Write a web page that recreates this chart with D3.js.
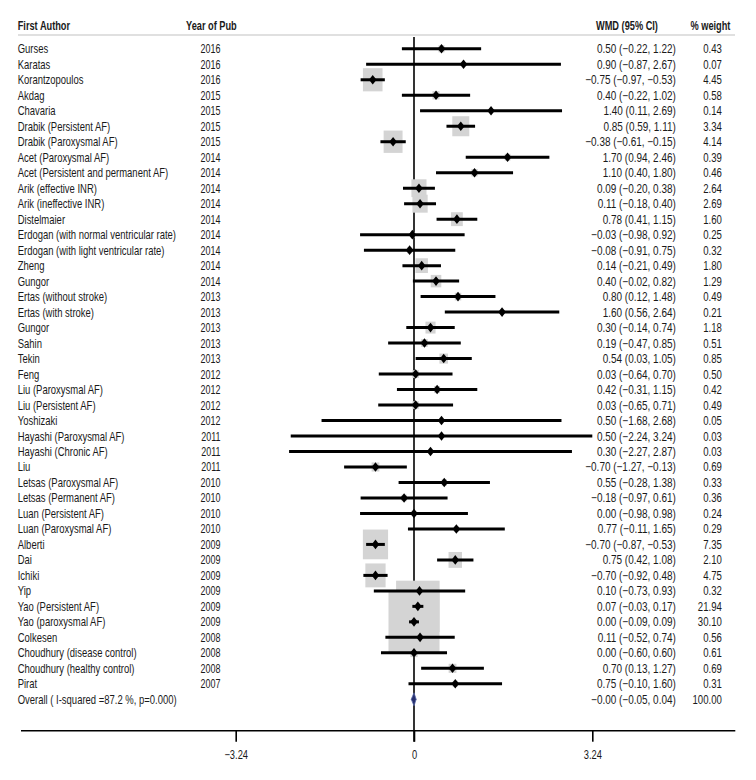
<!DOCTYPE html>
<html>
<head>
<meta charset="utf-8">
<script src="https://cdn.jsdelivr.net/npm/d3@7"></script>
<style>
  body { margin: 0; background: #fff; }
  svg text { font-family: "Liberation Sans", Arial, sans-serif; fill: #1a1a1a; }
</style>
</head>
<body>
<svg id="chart" width="756" height="780"></svg>
<script>
const authors = [
  "Gurses","Karatas","Korantzopoulos","Akdag","Chavaria","Drabik (Persistent AF)","Drabik (Paroxysmal AF)",
  "Acet (Paroxysmal AF)","Acet (Persistent and permanent AF)","Arik (effective INR)","Arik (ineffective INR)",
  "Distelmaier","Erdogan (with normal ventricular rate)","Erdogan (with light ventricular rate)","Zheng","Gungor",
  "Ertas (without stroke)","Ertas (with stroke)","Gungor","Sahin","Tekin","Feng","Liu (Paroxysmal AF)",
  "Liu (Persistent AF)","Yoshizaki","Hayashi (Paroxysmal AF)","Hayashi (Chronic AF)","Liu","Letsas (Paroxysmal AF)",
  "Letsas (Permanent AF)","Luan (Persistent AF)","Luan (Paroxysmal AF)","Alberti","Dai","Ichiki","Yip",
  "Yao (Persistent AF)","Yao (paroxysmal AF)","Colkesen","Choudhury (disease control)","Choudhury (healthy control)","Pirat"
];
const years = [2016,2016,2016,2015,2015,2015,2015,2014,2014,2014,2014,2014,2014,2014,2014,2014,2013,2013,2013,2013,2013,
  2012,2012,2012,2012,2011,2011,2011,2010,2010,2010,2010,2009,2009,2009,2009,2009,2009,2008,2008,2008,2007];
const wmd = [0.50,0.90,-0.75,0.40,1.40,0.85,-0.38,1.70,1.10,0.09,0.11,0.78,-0.03,-0.08,0.14,0.40,0.80,1.60,0.30,0.19,0.54,
  0.03,0.42,0.03,0.50,0.50,0.30,-0.70,0.55,-0.18,0.00,0.77,-0.70,0.75,-0.70,0.10,0.07,0.00,0.11,0.00,0.70,0.75];
const lower = [-0.22,-0.87,-0.97,-0.22,0.11,0.59,-0.61,0.94,0.40,-0.20,-0.18,0.41,-0.98,-0.91,-0.21,-0.02,0.12,0.56,-0.14,-0.47,0.03,
  -0.64,-0.31,-0.65,-1.68,-2.24,-2.27,-1.27,-0.28,-0.97,-0.98,-0.11,-0.87,0.42,-0.92,-0.73,-0.03,-0.09,-0.52,-0.60,0.13,-0.10];
const upper = [1.22,2.67,-0.53,1.02,2.69,1.11,-0.15,2.46,1.80,0.38,0.40,1.15,0.92,0.75,0.49,0.82,1.48,2.64,0.74,0.85,1.05,
  0.70,1.15,0.71,2.68,3.24,2.87,-0.13,1.38,0.61,0.98,1.65,-0.53,1.08,-0.48,0.93,0.17,0.09,0.74,0.60,1.27,1.60];
// Ichiki's printed CI upper bound reads "0.48" in the source table
const upperLabel = upper.map((u,i) => i === 34 ? 0.48 : u);
const weights = [0.43,0.07,4.45,0.58,0.14,3.34,4.14,0.39,0.46,2.64,2.69,1.60,0.25,0.32,1.80,1.29,0.49,0.21,1.18,0.51,0.85,
  0.50,0.42,0.49,0.05,0.03,0.03,0.69,0.33,0.36,0.24,0.29,7.35,2.10,4.75,0.32,21.94,30.10,0.56,0.61,0.69,0.31];
const overallLabel = "Overall ( I-squared =87.2 %, p=0.000)";
const overall = {est: -0.00, lo: -0.05, hi: 0.04, weight: "100.00"};
const tickValues = [-3.24, 0, 3.24];
const tickLabels = ["\u22123.24", "0", "3.24"];
const headers = ["First Author", "Year of Pub", "WMD (95% CI)", "% weight"];

const svg = d3.select("#chart");
const nRows = authors.length + 1;
const y = d3.scalePoint().domain(d3.range(nRows)).range([48.8, 699.3]);
const x = d3.scaleLinear().domain([-3.24, 3.24]).range([235.7, 592.3]);
const boxW = d3.scaleSqrt().domain([0, 30.10]).range([0, 51]);
const aspect = 1.18;
const fmt = v => (v < 0 ? "\u2212" : "") + Math.abs(v).toFixed(2);

const rows = authors.map((a,i) => ({i, author: a, year: years[i], est: wmd[i], lo: lower[i], hi: upper[i], hiLab: upperLabel[i], w: weights[i]}));

const axisY = 730.7;
const fs = 12.3;
const dyT = 4.5;

// helper: condensed text via horizontal scale
function ctext(g, cls, data, X, Y, sx, anchor, txt, bold) {
  return g.selectAll("text." + cls).data(data).join("text").attr("class", cls)
    .attr("transform", (d,i) => `translate(${typeof X === "function" ? X(d,i) : X},${typeof Y === "function" ? Y(d,i) : Y}) scale(${sx},1)`)
    .attr("text-anchor", anchor).attr("font-size", fs)
    .attr("font-weight", bold ? "bold" : "normal")
    .text(txt);
}

// header
const hx = [17.7, 186, 596, 690.5];
ctext(svg, "hdr", headers, (d,i)=>hx[i], 29.5, 0.75, "start", d=>d, true);
svg.append("line").attr("x1",18).attr("x2",735).attr("y1",35).attr("y2",35)
  .attr("stroke","#e0e0e0").attr("stroke-width",2);

// zero line
svg.append("line").attr("x1",x(0)).attr("x2",x(0)).attr("y1",37).attr("y2",axisY+11)
  .attr("stroke","#000").attr("stroke-width",1.6);

// boxes
svg.append("g").selectAll("rect").data(rows).join("rect")
  .attr("x", d => x(d.est) - boxW(d.w)/2)
  .attr("y", d => y(d.i) - boxW(d.w)*aspect/2)
  .attr("width", d => boxW(d.w))
  .attr("height", d => boxW(d.w)*aspect)
  .attr("fill", "#d4d4d4");

// CI lines
svg.append("g").selectAll("line").data(rows).join("line")
  .attr("x1", d => x(d.lo)).attr("x2", d => x(d.hi))
  .attr("y1", d => y(d.i)).attr("y2", d => y(d.i))
  .attr("stroke", "#000").attr("stroke-width", 3);

// point diamonds
svg.append("g").selectAll("path").data(rows).join("path")
  .attr("d", d => {
    const cx = x(d.est), cy = y(d.i);
    return `M${cx-3.8},${cy}L${cx},${cy-4.8}L${cx+3.8},${cy}L${cx},${cy+4.8}Z`;
  })
  .attr("fill", "#000");

// overall diamond
const oy = y(nRows-1);
svg.append("path")
  .attr("d", `M${x(overall.lo)},${oy}L${x(overall.est)},${oy-6.5}L${x(overall.hi)},${oy}L${x(overall.est)},${oy+6.5}Z`)
  .attr("fill", "#27306e").attr("stroke","#5a6aa8").attr("stroke-width",0.8);

// text columns
const tg = svg.append("g");
ctext(tg, "auth", rows, 17.7, d=>y(d.i)+dyT, 0.77, "start", d=>d.author);
ctext(tg, "yr", rows, 220.5, d=>y(d.i)+dyT, 0.73, "end", d=>d.year);
ctext(tg, "ci", rows, 675.8, d=>y(d.i)+dyT, 0.81, "end", d=>`${fmt(d.est)} (${fmt(d.lo)}, ${fmt(d.hiLab)})`);
ctext(tg, "wt", rows, 721.8, d=>y(d.i)+dyT, 0.78, "end", d=>d.w.toFixed(2));
ctext(tg, "oa", [overallLabel], 17.7, oy+dyT, 0.77, "start", d=>d);
ctext(tg, "oci", [overall], 675.8, oy+dyT, 0.81, "end", d=>`\u2212${Math.abs(d.est).toFixed(2)} (${fmt(d.lo)}, ${fmt(d.hi)})`);
ctext(tg, "owt", [overall], 721.8, oy+dyT, 0.78, "end", d=>d.weight);

// axis
svg.append("line").attr("x1",21).attr("x2",735.3).attr("y1",axisY).attr("y2",axisY)
  .attr("stroke","#000").attr("stroke-width",1.6);
const axis = d3.axisBottom(x).tickValues(tickValues).tickSize(11).tickFormat((d,i)=>tickLabels[i]);
const ag = svg.append("g").attr("transform",`translate(0,${axisY})`).call(axis);
ag.select(".domain").remove();
ag.selectAll(".tick line").attr("stroke","#000").attr("stroke-width",1.6);
ag.selectAll(".tick text")
  .attr("y", 0).attr("dy", 0)
  .attr("transform", "translate(0,28.3) scale(0.76,1)")
  .attr("font-size", fs).attr("fill","#1a1a1a")
  .attr("font-family",'"Liberation Sans", Arial, sans-serif');
</script>
</body>
</html>
